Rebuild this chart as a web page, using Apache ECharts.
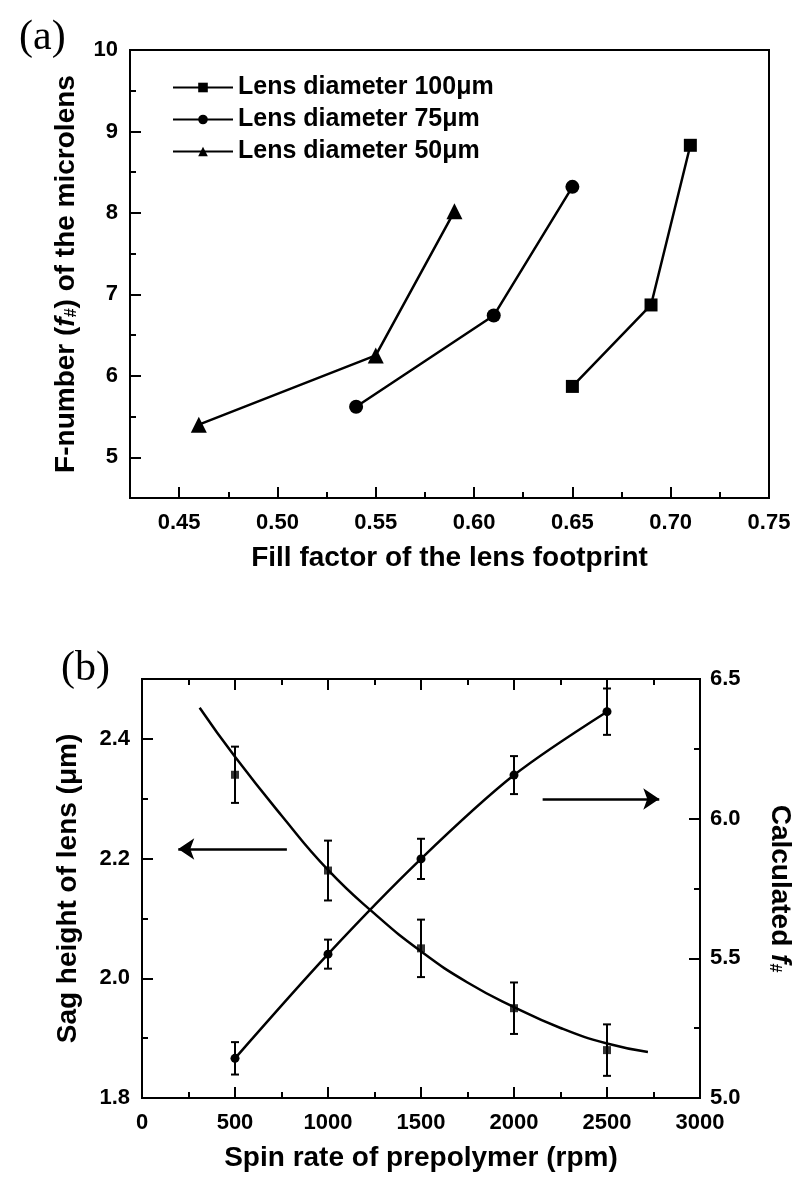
<!DOCTYPE html>
<html>
<head>
<meta charset="utf-8">
<script src="https://cdn.jsdelivr.net/npm/echarts@6/dist/echarts.min.js"></script>
<style>
  html, body { margin: 0; padding: 0; background: #fff; }
  #chart { width: 795px; height: 1179px; }
</style>
</head>
<body>
<div id="chart"></div>
<script>
// ---- panel (a): F-number vs fill factor ----
const fill100 = [0.65, 0.69, 0.71];
const fnum100 = [5.87, 6.87, 8.83];
const fill75 = [0.54, 0.61, 0.65];
const fnum75 = [5.62, 6.74, 8.32];
const fill50 = [0.46, 0.55, 0.59];
const fnum50 = [5.40, 6.25, 8.02];
const seriesNamesA = ['Lens diameter 100μm', 'Lens diameter 75μm', 'Lens diameter 50μm'];

const ticksAX = [0.45, 0.50, 0.55, 0.60, 0.65, 0.70, 0.75];
const minorAX = [0.475, 0.525, 0.575, 0.625, 0.675, 0.725];
const ticksAY = [5, 6, 7, 8, 9, 10];
const minorAY = [5.5, 6.5, 7.5, 8.5, 9.5];

// ---- panel (b): sag height and f-number vs spin rate ----
const spinRate = [500, 1000, 1500, 2000, 2500];
const sagHeight = [2.34, 2.18, 2.05, 1.95, 1.88];
const sagErr = [0.047, 0.05, 0.048, 0.043, 0.043];
const fNumber = [5.142, 5.515, 5.856, 6.156, 6.383];
const fNumberErr = [0.058, 0.052, 0.072, 0.068, 0.083];
// fitted curve of sag height
const sagFitRate = [310, 500, 750, 1000, 1250, 1500, 1750, 2000, 2250, 2500, 2720];
const sagFit = [2.452, 2.37, 2.272, 2.181, 2.108, 2.045, 1.993, 1.952, 1.917, 1.891, 1.877];
// arrows (data coords)
const arrowLeft = [[779, 2.216], [195, 2.216]];
const arrowRight = [[2154, 2.2995], [2781, 2.2995]];

const ticksBX = [0, 500, 1000, 1500, 2000, 2500, 3000];
const minorBX = [250, 750, 1250, 1750, 2250, 2750];
const ticksBL = [1.8, 2.0, 2.2, 2.4];
const minorBL = [1.9, 2.1, 2.3];
const ticksBR = [5.0, 5.5, 6.0, 6.5];
const minorBR = [5.25, 5.75, 6.25];

const FONT = '"Liberation Sans", Arial, sans-serif';
const labelStyle = { color: '#000', fontFamily: FONT, fontWeight: 'bold', fontSize: 22 };
const nameStyle = {
  color: '#000', fontFamily: FONT, fontWeight: 'bold', fontSize: 28,
  rich: {
    i: { fontFamily: FONT, fontWeight: 'bold', fontStyle: 'italic', fontSize: 28, color: '#000' },
    sub: { fontFamily: FONT, fontWeight: 'bold', fontSize: 16, color: '#000', verticalAlign: 'bottom', padding: [10, 0, 0, 0] }
  }
};
const black = { color: '#000', width: 2 };

function zip(a, b) { return a.map((v, i) => [v, b[i]]); }

function majorAxis(grid, pos, min, max, ticks, fmt, extra) {
  return Object.assign({
    type: 'value', gridIndex: grid, position: pos, min: min, max: max,
    axisLine: { show: true, onZero: false, lineStyle: black },
    axisTick: { show: true, inside: true, length: 11, lineStyle: black, customValues: ticks },
    axisLabel: Object.assign({ show: true, customValues: ticks, formatter: fmt }, labelStyle),
    splitLine: { show: false }
  }, extra || {});
}
function minorAxis(grid, pos, min, max, ticks) {
  return {
    type: 'value', gridIndex: grid, position: pos, min: min, max: max,
    axisLine: { show: false, onZero: false },
    axisTick: { show: true, inside: true, length: 6, lineStyle: black, customValues: ticks },
    axisLabel: { show: false },
    splitLine: { show: false }
  };
}

const errorBar = function (params, api) {
  const x = api.value(0), y = api.value(1), e = api.value(2);
  const top = api.coord([x, y + e]);
  const bot = api.coord([x, y - e]);
  const w = 4;
  const st = { stroke: '#000', lineWidth: 2 };
  return {
    type: 'group',
    children: [
      { type: 'line', shape: { x1: top[0], y1: top[1], x2: bot[0], y2: bot[1] }, style: st },
      { type: 'line', shape: { x1: top[0] - w, y1: top[1], x2: top[0] + w, y2: top[1] }, style: st },
      { type: 'line', shape: { x1: bot[0] - w, y1: bot[1], x2: bot[0] + w, y2: bot[1] }, style: st }
    ]
  };
};

const chart = echarts.init(document.getElementById('chart'));
const option = {
  backgroundColor: '#fff',
  animation: false,
  title: [
    { text: '(a)', left: 14, top: 12, textStyle: { fontFamily: '"Liberation Serif", "Times New Roman", serif', fontWeight: 'normal', fontSize: 42, color: '#000' } },
    { text: '(b)', left: 56, top: 643, textStyle: { fontFamily: '"Liberation Serif", "Times New Roman", serif', fontWeight: 'normal', fontSize: 42, color: '#000' } }
  ],
  legend: {
    orient: 'vertical', left: 167, top: 70,
    itemWidth: 60, itemHeight: 12, itemGap: 7,
    data: seriesNamesA,
    textStyle: { color: '#000', fontFamily: FONT, fontWeight: 'bold', fontSize: 25, lineHeight: 25 }
  },
  grid: [
    { left: 130, top: 50, width: 639, height: 448, show: true, borderColor: '#000', borderWidth: 2, backgroundColor: 'transparent', outerBoundsMode: 'none' },
    { left: 142, top: 679, width: 558, height: 419, show: true, borderColor: '#000', borderWidth: 2, backgroundColor: 'transparent', outerBoundsMode: 'none' }
  ],
  xAxis: [
    majorAxis(0, 'bottom', 0.425, 0.75, ticksAX, v => v.toFixed(2), {
      name: 'Fill factor of the lens footprint', nameLocation: 'middle', nameGap: 46, nameTextStyle: nameStyle,
      axisLabel: Object.assign({ customValues: ticksAX, formatter: v => v.toFixed(2), margin: 14 }, labelStyle)
    }),
    minorAxis(0, 'bottom', 0.425, 0.75, minorAX),
    majorAxis(1, 'bottom', 0, 3000, ticksBX, v => String(v), {
      name: 'Spin rate of prepolymer (rpm)', nameLocation: 'middle', nameGap: 46, nameTextStyle: nameStyle,
      axisLabel: Object.assign({ customValues: ticksBX, formatter: v => String(v), margin: 14 }, labelStyle)
    }),
    minorAxis(1, 'bottom', 0, 3000, minorBX),
    majorAxis(1, 'top', 0, 3000, ticksBX, v => '', { axisLabel: { show: false } }),
    minorAxis(1, 'top', 0, 3000, minorBX)
  ],
  yAxis: [
    majorAxis(0, 'left', 4.5, 10, ticksAY, v => String(v), {
      name: 'F-number ({i|f}{sub|#}) of the microlens', nameLocation: 'middle', nameGap: 50, nameTextStyle: nameStyle,
      axisLabel: Object.assign({ customValues: ticksAY, formatter: v => String(v), margin: 12 }, labelStyle)
    }),
    minorAxis(0, 'left', 4.5, 10, minorAY),
    majorAxis(1, 'left', 1.8, 2.5, ticksBL, v => v.toFixed(1), {
      name: 'Sag height of lens (μm)', nameLocation: 'middle', nameGap: 60, nameTextStyle: nameStyle,
      axisLabel: Object.assign({ customValues: ticksBL, formatter: v => v.toFixed(1), margin: 12 }, labelStyle)
    }),
    minorAxis(1, 'left', 1.8, 2.5, minorBL),
    majorAxis(1, 'right', 5.0, 6.5, ticksBR, v => v.toFixed(1), {
      name: 'Calculated {i|f}{sub|#}', nameLocation: 'middle', nameGap: 66, nameRotate: -90, nameTextStyle: nameStyle,
      axisLabel: Object.assign({ customValues: ticksBR, formatter: v => v.toFixed(1), margin: 10 }, labelStyle)
    }),
    minorAxis(1, 'right', 5.0, 6.5, minorBR)
  ],
  series: [
    {
      name: seriesNamesA[0], type: 'line', xAxisIndex: 0, yAxisIndex: 0,
      data: zip(fill100, fnum100), symbol: 'rect', symbolSize: 13,
      lineStyle: { color: '#000', width: 2.5 }, itemStyle: { color: '#000' }
    },
    {
      name: seriesNamesA[1], type: 'line', xAxisIndex: 0, yAxisIndex: 0,
      data: zip(fill75, fnum75), symbol: 'circle', symbolSize: 14,
      lineStyle: { color: '#000', width: 2.5 }, itemStyle: { color: '#000' }
    },
    {
      name: seriesNamesA[2], type: 'line', xAxisIndex: 0, yAxisIndex: 0,
      data: zip(fill50, fnum50), symbol: 'triangle', symbolSize: 16,
      lineStyle: { color: '#000', width: 2.5 }, itemStyle: { color: '#000' }
    },
    // panel (b)
    {
      type: 'line', xAxisIndex: 2, yAxisIndex: 2, data: zip(sagFitRate, sagFit),
      smooth: true, showSymbol: false, symbol: 'none',
      lineStyle: { color: '#000', width: 2.5 }
    },
    {
      type: 'scatter', xAxisIndex: 2, yAxisIndex: 2, data: zip(spinRate, sagHeight),
      symbol: 'rect', symbolSize: 8, itemStyle: { color: '#000' }
    },
    {
      type: 'custom', xAxisIndex: 2, yAxisIndex: 2, renderItem: errorBar,
      data: spinRate.map((v, i) => [v, sagHeight[i], sagErr[i]])
    },
    {
      type: 'line', xAxisIndex: 2, yAxisIndex: 4, data: zip(spinRate, fNumber),
      smooth: 0.3, symbol: 'circle', symbolSize: 9,
      lineStyle: { color: '#000', width: 2.5 }, itemStyle: { color: '#000' }
    },
    {
      type: 'custom', xAxisIndex: 2, yAxisIndex: 4, renderItem: errorBar,
      data: spinRate.map((v, i) => [v, fNumber[i], fNumberErr[i]])
    },
    {
      type: 'lines', coordinateSystem: 'cartesian2d', xAxisIndex: 2, yAxisIndex: 2,
      symbol: ['none', 'arrow'], symbolSize: 16,
      lineStyle: { color: '#000', width: 2.5, opacity: 1 },
      data: [{ coords: arrowLeft }, { coords: arrowRight }]
    }
  ]
};
chart.setOption(option);
</script>
</body>
</html>
